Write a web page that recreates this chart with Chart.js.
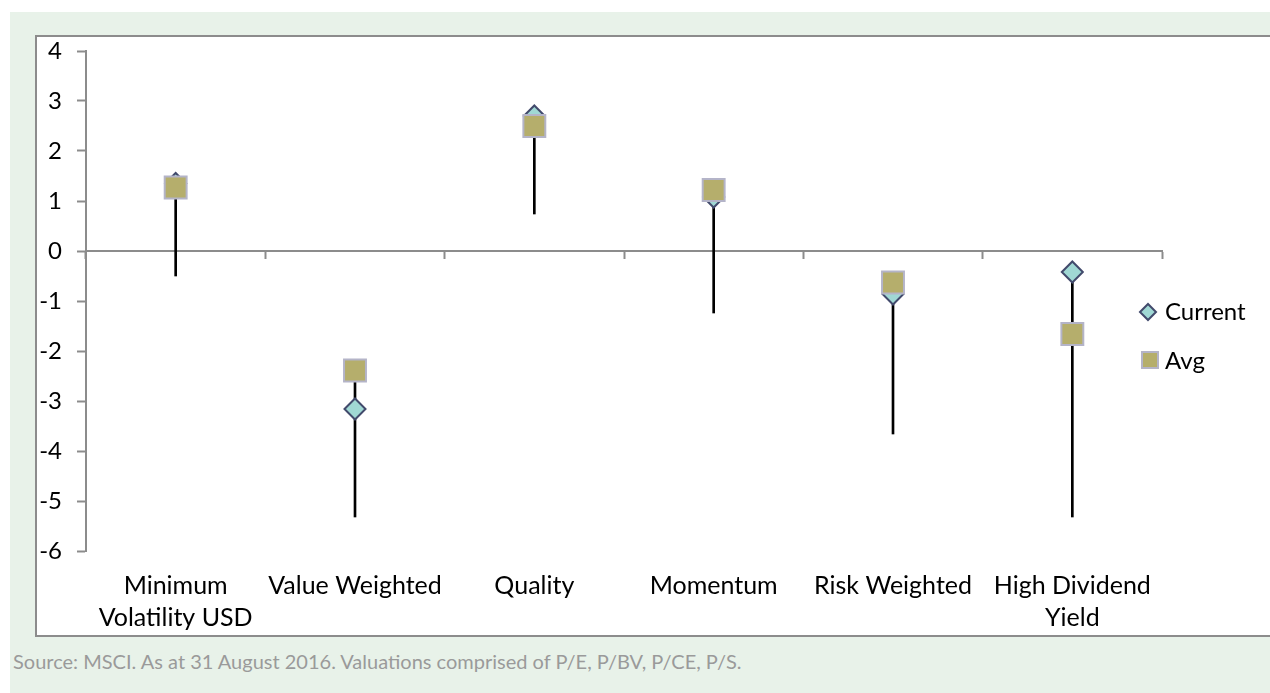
<!DOCTYPE html>
<html>
<head>
<meta charset="utf-8">
<script src="https://cdn.jsdelivr.net/npm/chart.js@4.4.1/dist/chart.umd.min.js"></script>
<style>
  html, body { margin: 0; padding: 0; background: #fff; }
  body { width: 1270px; height: 693px; position: relative; overflow: hidden; font-family: Lato, sans-serif; }
  #bg { position: absolute; left: 10px; top: 12px; width: 1260px; height: 681px; background: #e8f2e9; }
  #box { position: absolute; left: 35px; top: 35px; width: 1250px; height: 598px; background: #fff; border: 2px solid #8c8c8c; }
  #src { position: absolute; left: 13px; top: 649px; font-size: 20px; color: #9a9a9a; white-space: nowrap; }
  #chart { position: absolute; left: 0; top: 0; }
</style>
</head>
<body>
<div id="bg"></div>
<div id="box"></div>
<div id="src">Source: MSCI. As at 31 August 2016. Valuations comprised of P/E, P/BV, P/CE, P/S.</div>
<canvas id="chart" width="1270" height="693"></canvas>
<script>
    const categories = [['Minimum', 'Volatility USD'], 'Value Weighted', 'Quality', 'Momentum', 'Risk Weighted', ['High Dividend', 'Yield']];
    const currentValues = [1.35, -3.16, 2.7, 1.08, -0.86, -0.42];
    const avgValues = [1.27, -2.39, 2.5, 1.22, -0.63, -1.66];
    const rangeLow = [-0.5, -5.32, 0.74, -1.24, -3.66, -5.32];
    const rangeHigh = [1.3, -2.39, 2.5, 1.2, -0.63, -0.42];
    const yTicks = [4, 3, 2, 1, 0, -1, -2, -3, -4, -5, -6];

    const gray = '#8c8c8c';

    const currentStyle = { fill: '#a0d8d4', stroke: '#424a6c' };
    const avgStyle = { fill: '#b5ae6c', stroke: '#b4b4c8' };

    // legend drawn by hand so it sits where the original one does
    const sideLegend = {
      id: 'sideLegend',
      afterDraw(chart) {
        const ctx = chart.ctx;
        ctx.save();
        ctx.lineWidth = 2;
        // Current
        ctx.beginPath();
        ctx.moveTo(1140, 312); ctx.lineTo(1148, 304); ctx.lineTo(1156, 312); ctx.lineTo(1148, 320);
        ctx.closePath();
        ctx.fillStyle = currentStyle.fill; ctx.fill();
        ctx.strokeStyle = currentStyle.stroke; ctx.stroke();
        // Avg
        ctx.fillStyle = avgStyle.fill;
        ctx.fillRect(1142, 352, 16, 16);
        ctx.strokeStyle = avgStyle.stroke;
        ctx.strokeRect(1142, 352, 16, 16);
        ctx.fillStyle = '#000';
        ctx.font = '24px Lato, sans-serif';
        ctx.textBaseline = 'middle';
        ctx.fillText('Current', 1165, 312);
        ctx.fillText('Avg', 1165, 361);
        ctx.restore();
      }
    };

    new Chart(document.getElementById('chart'), {
      type: 'bar',
      data: {
        labels: categories,
        datasets: [
          {
            type: 'line',
            label: 'Avg',
            data: avgValues,
            showLine: false,
            pointStyle: 'rect',
            pointRadius: 15.5,
            pointBackgroundColor: avgStyle.fill,
            pointBorderColor: avgStyle.stroke,
            pointBorderWidth: 2,
            order: 0
          },
          {
            type: 'line',
            label: 'Current',
            data: currentValues,
            showLine: false,
            pointStyle: 'rectRot',
            pointRadius: 10.5,
            pointBackgroundColor: currentStyle.fill,
            pointBorderColor: currentStyle.stroke,
            pointBorderWidth: 2,
            order: 1
          },
          {
            label: 'Range',
            data: rangeLow.map((lo, i) => [lo, rangeHigh[i]]),
            backgroundColor: '#000',
            barThickness: 2,
            order: 2
          }
        ]
      },
      options: {
        responsive: false,
        animation: false,
        layout: { padding: { top: 51, right: 108, left: 0, bottom: 0 } },
        plugins: { legend: { display: false }, tooltip: { enabled: false } },
        scales: {
          x: {
            position: { y: 0 },
            offset: true,
            grid: { drawOnChartArea: false, offset: true, tickLength: 7, color: gray, tickWidth: 2 },
            border: { color: gray, width: 2 },
            ticks: { display: false }
          },
          x2: {
            axis: 'x',
            type: 'category',
            position: 'bottom',
            offset: true,
            grid: { display: false },
            border: { display: false },
            ticks: { color: '#000', font: { family: 'Lato, sans-serif', size: 25, lineHeight: 1.28 }, padding: 11, maxRotation: 0, autoSkip: false },
            afterFit: (s) => { s.height = 142; }
          },
          y: {
            min: -6,
            max: 4,
            grid: { drawOnChartArea: false, tickLength: 9, color: gray, tickWidth: 2 },
            border: { color: gray, width: 2 },
            afterBuildTicks: (s) => { s.ticks = yTicks.map(v => ({ value: v })); },
            ticks: { color: '#000', font: { family: 'Lato, sans-serif', size: 24 }, padding: 15 },
            afterFit: (s) => { s.width = 86; }
          }
        }
      },
      plugins: [sideLegend]
    });
</script>
</body>
</html>
